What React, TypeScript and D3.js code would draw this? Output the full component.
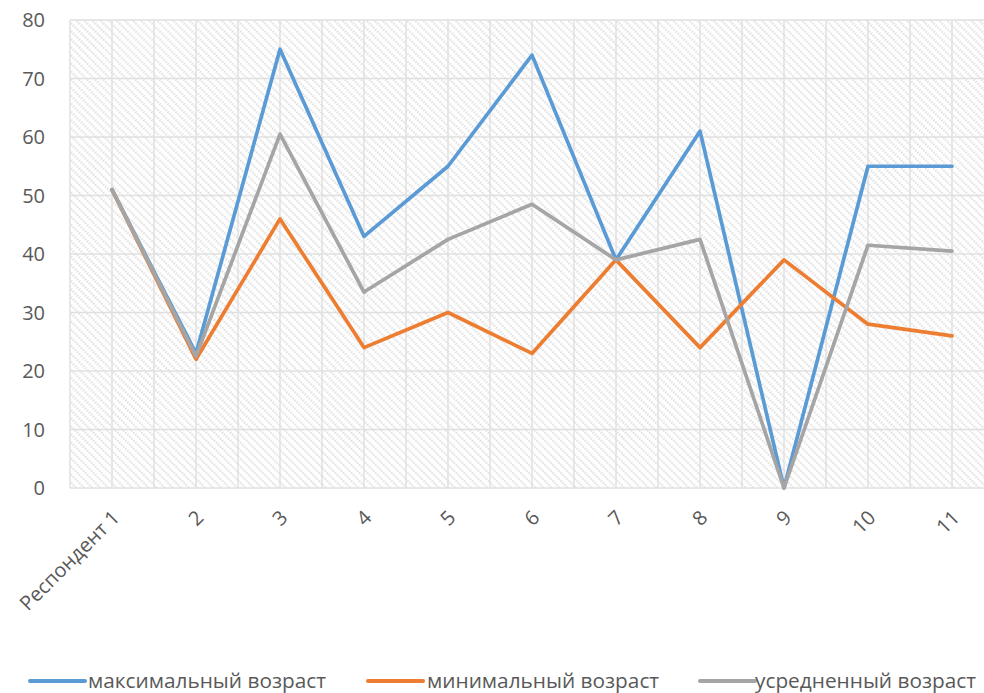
import React from 'react'
import * as d3 from 'd3'

const categories = ['Респондент 1', '2', '3', '4', '5', '6', '7', '8', '9', '10', '11']
const maxAge = [51, 23, 75, 43, 55, 74, 39, 61, 0, 55, 55]
const minAge = [51, 22, 46, 24, 30, 23, 39, 24, 39, 28, 26]
const avgAge = [51, 22.5, 60.5, 33.5, 42.5, 48.5, 39, 42.5, 0, 41.5, 40.5]
const yTicks = [0, 10, 20, 30, 40, 50, 60, 70, 80]

const series = [
  { name: 'максимальный возраст', values: maxAge, color: '#5b9bd5' },
  { name: 'минимальный возраст', values: minAge, color: '#ed7d31' },
  { name: 'усредненный возраст', values: avgAge, color: '#a5a5a5' }
]

const width = 984
const height = 693
const margin = { top: 20, right: -10, bottom: 205, left: 70 }
const font = '"Open Sans", sans-serif'

export default function App() {
  const innerW = width - margin.left - margin.right
  const innerH = height - margin.top - margin.bottom

  const x = d3.scaleBand().domain(categories).range([0, innerW])
  const y = d3.scaleLinear().domain([0, 80]).range([innerH, 0])
  const cx = (c: string) => (x(c) ?? 0) + x.bandwidth() / 2

  const line = d3.line<number>()
    .x((_, i) => cx(categories[i]))
    .y(d => y(d))

  // gridlines at band edges and centers
  const vLines: number[] = []
  categories.forEach(c => {
    vLines.push(x(c) ?? 0)
    vLines.push(cx(c))
  })
  vLines.push(innerW)

  const legendItems = [
    { x: 30, textX: 88 },
    { x: 368, textX: 427 },
    { x: 700, textX: 755 }
  ]

  return (
    <div style={{ position: 'fixed', left: 0, top: 0, width, height, overflow: 'hidden' }}>
      <svg width={width} height={height} style={{ display: 'block', background: '#fff' }}>
        <defs>
          <pattern id="hatch" width="5.7" height="5.7" patternUnits="userSpaceOnUse" patternTransform="rotate(45)">
            <line x1="0" y1="1.5" x2="5.7" y2="1.5" stroke="#dadada" strokeWidth="2.2" strokeDasharray="1.45,1.4" />
          </pattern>
        </defs>
        <g transform={`translate(${margin.left},${margin.top})`}>
          <rect x={0} y={0} width={innerW} height={innerH} fill="url(#hatch)" />
          {yTicks.map(t => (
            <line key={'h' + t} x1={0} x2={innerW} y1={y(t)} y2={y(t)} stroke="#e0e0e0" strokeWidth={1.5} />
          ))}
          {vLines.map((v, i) => (
            <line key={'v' + i} x1={v} x2={v} y1={0} y2={innerH} stroke="#e0e0e0" strokeWidth={1.5} />
          ))}
          {yTicks.map(t => (
            <text key={'yl' + t} x={-25} y={y(t)} dy="0.35em" textAnchor="end"
              fontFamily={font} fontSize={20} fill="#595959">{t}</text>
          ))}
          {categories.map(c => (
            <text key={'xl' + c} transform={`translate(${cx(c) + 4},${innerH + 26}) rotate(-45)`}
              textAnchor="end" dy="0.35em" fontFamily={font} fontSize={20} fill="#595959">{c}</text>
          ))}
          {series.map(s => (
            <path key={s.name} d={line(s.values) ?? ''} fill="none" stroke={s.color}
              strokeWidth={3.7} strokeLinejoin="round" strokeLinecap="round" />
          ))}
        </g>
        {series.map((s, i) => (
          <g key={'lg' + s.name}>
            <line x1={legendItems[i].x} x2={legendItems[i].x + 55} y1={681} y2={681}
              stroke={s.color} strokeWidth={4} strokeLinecap="round" />
            <text x={legendItems[i].textX} y={681} dy="0.35em" fontFamily={font} fontSize={20.8}
              fill="#595959">{s.name}</text>
          </g>
        ))}
      </svg>
    </div>
  )
}
